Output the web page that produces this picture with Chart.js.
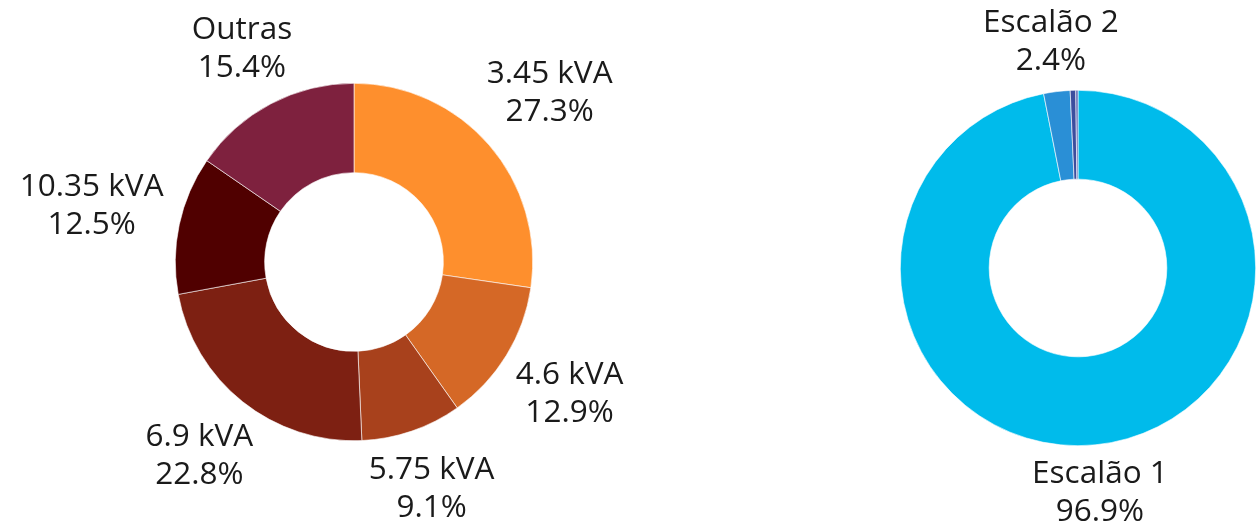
<!DOCTYPE html>
<html>
<head>
<meta charset="utf-8">
<script src="https://cdn.jsdelivr.net/npm/chart.js@4.4.1/dist/chart.umd.min.js"></script>
<style>
  body { margin: 0; background: #fff; }
  #wrap { position: relative; width: 1256px; height: 529px; }
  #left { position: absolute; left: 0; top: 0; }
  #right { position: absolute; left: 708px; top: 0; }
</style>
</head>
<body>
<div id="wrap">
  <div id="left" style="width:708px;height:529px"><canvas id="c1"></canvas></div>
  <div id="right" style="width:548px;height:529px"><canvas id="c2"></canvas></div>
</div>
<script>
// potência contratada
const potLabels = ['3.45 kVA', '4.6 kVA', '5.75 kVA', '6.9 kVA', '10.35 kVA', 'Outras'];
const potValues = [27.3, 12.9, 9.1, 22.8, 12.5, 15.4];
const potColors = ['#FE8F2D', '#D56826', '#A8411C', '#7D2012', '#500000', '#7E213E'];

// escalões
const escLabels = ['Escalão 1', 'Escalão 2', 'Escalão 3', 'Escalão 4'];
const escValues = [96.9, 2.4, 0.5, 0.2];
const escColors = ['#00BBEB', '#2A8FD6', '#3C4E9E', '#5A66B4'];

const FONT = '31.5px "Open Sans", Lato, sans-serif';

// etiquetas fora da fatia, duas linhas: nome + percentagem
const outsideLabels = {
    id: 'outsideLabels',
    afterDatasetsDraw(chart) {
        const ctx = chart.ctx;
        const ds = chart.data.datasets[0];
        const meta = chart.getDatasetMeta(0);
        ctx.save();
        ctx.font = FONT;
        ctx.fillStyle = '#1a1a1a';
        ctx.textAlign = 'center';
        ctx.textBaseline = 'middle';
        meta.data.forEach((arc, i) => {
            const v = ds.data[i];
            if (v < 1) return;
            const l1 = chart.data.labels[i];
            const l2 = v.toFixed(1) + '%';
            const w = Math.max(ctx.measureText(l1).width, ctx.measureText(l2).width) / 2;
            const h = 38;
            const mid = (arc.startAngle + arc.endAngle) / 2;
            const dx = Math.cos(mid), dy = Math.sin(mid);
            const d = arc.outerRadius + 9 + Math.abs(dx) * w * 1.05 + Math.abs(dy) * h * 0.85;
            const cx = arc.x + dx * d, cy = arc.y + dy * d;
            ctx.fillText(l1, cx, cy - 19);
            ctx.fillText(l2, cx, cy + 19);
        });
        ctx.restore();
    }
};

function gerarDonut(id, labels, values, colors, padding) {
    new Chart(document.getElementById(id), {
        type: 'doughnut',
        data: {
            labels: labels,
            datasets: [{
                data: values,
                backgroundColor: colors,
                borderColor: '#fff',
                borderWidth: 0.6
            }]
        },
        options: {
            responsive: true,
            maintainAspectRatio: false,
            animation: false,
            cutout: '50%',
            layout: { padding: padding },
            plugins: {
                legend: { display: false },
                tooltip: { enabled: false }
            }
        },
        plugins: [outsideLabels]
    });
}

gerarDonut('c1', potLabels, potValues, potColors, { top: 83, bottom: 88, left: 175, right: 175 });
gerarDonut('c2', escLabels, escValues, escColors, { top: 90, bottom: 83, left: 192, right: 0 });
</script>
</body>
</html>
